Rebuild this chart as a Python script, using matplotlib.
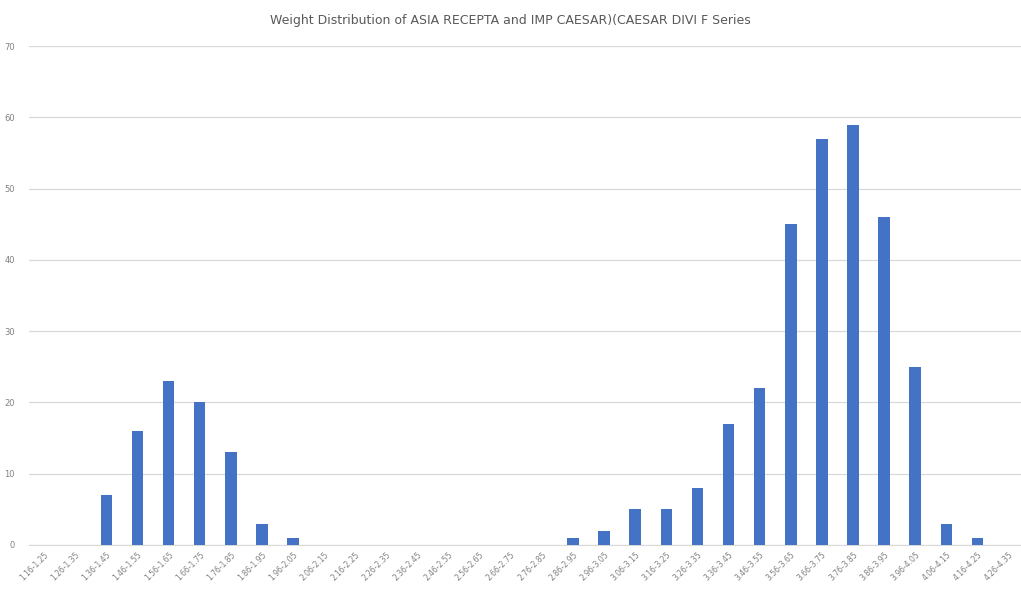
import matplotlib
matplotlib.use("Agg")
import matplotlib.pyplot as plt
import numpy as np

# weight class labels
categories = ["1.16-1.25", "1.26-1.35", "1.36-1.45", "1.46-1.55", "1.56-1.65",
              "1.66-1.75", "1.76-1.85", "1.86-1.95", "1.96-2.05", "2.06-2.15",
              "2.16-2.25", "2.26-2.35", "2.36-2.45", "2.46-2.55", "2.56-2.65",
              "2.66-2.75", "2.76-2.85", "2.86-2.95", "2.96-3.05", "3.06-3.15",
              "3.16-3.25", "3.26-3.35", "3.36-3.45", "3.46-3.55", "3.56-3.65",
              "3.66-3.75", "3.76-3.85", "3.86-3.95", "3.96-4.05", "4.06-4.15",
              "4.16-4.25", "4.26-4.35"]
counts = [0, 0, 7, 16, 23, 20, 13, 3, 1, 0,
          0, 0, 0, 0, 0, 0, 0, 1, 2, 5,
          5, 8, 17, 22, 45, 57, 59, 46, 25, 3,
          1, 0]
yticks = [0, 10, 20, 30, 40, 50, 60, 70]

fig = plt.figure(figsize=(10.21, 5.93), dpi=100)
ax = fig.add_axes([0.028, 0.081, 0.975, 0.841])

x = np.arange(len(categories))
ax.bar(x, counts, width=0.37, color="#4472C4", zorder=3)

ax.set_xlim(-0.5, len(categories) - 0.5)
ax.set_ylim(0, 70)
ax.set_yticks(yticks)
ax.yaxis.grid(True, color="#D9D9D9", linewidth=0.9, zorder=0)
ax.set_xticks(x)
ax.set_xticklabels(categories, rotation=45, ha="right", rotation_mode="anchor",
                   fontsize=5.5, color="#808080")
ax.tick_params(axis="y", labelsize=6, labelcolor="#808080", length=0, pad=10)
ax.tick_params(axis="x", length=0, pad=4)
for s in ["top", "right", "left"]:
    ax.spines[s].set_visible(False)
ax.spines["bottom"].set_color("#D9D9D9")

fig.text(0.5, 0.965, "Weight Distribution of ASIA RECEPTA and IMP CAESAR)(CAESAR DIVI F Series",
         ha="center", va="center", fontsize=9, color="#595959")

fig.savefig("out.png", dpi=100)
